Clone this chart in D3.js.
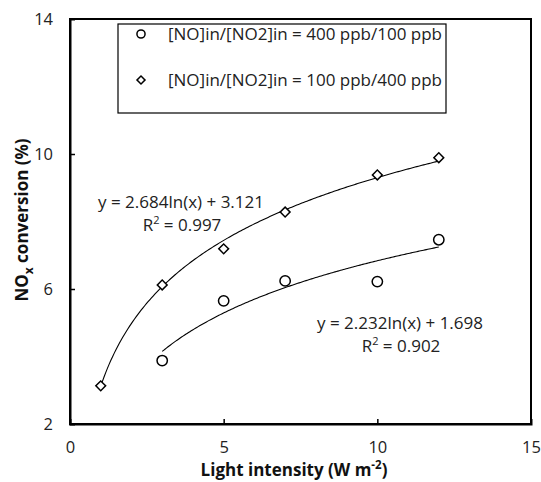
<!DOCTYPE html>
<html>
<head>
<meta charset="utf-8">
<script src="https://cdn.jsdelivr.net/npm/d3@7/dist/d3.min.js"></script>
<style>
  html, body { margin: 0; padding: 0; background: #fff; }
  svg { display: block; font-family: "Open Sans", "Liberation Sans", Arial, sans-serif; }
</style>
</head>
<body>
<svg id="chart" width="541" height="482"></svg>
<script>
// Light intensity (W m-2) levels
const intensityNO400 = [3, 5, 7, 10, 12];
const intensityNO100 = [1, 3, 5, 7, 10, 12];
// NOx conversion (%)
const conversionNO400 = [3.88, 5.65, 6.24, 6.22, 7.46];
const conversionNO100 = [3.13, 6.12, 7.19, 8.28, 9.38, 9.89];
// Logarithmic fits y = a ln(x) + b
const fitNO400 = { a: 2.232, b: 1.698, r2: 0.902, from: 3, to: 12 };
const fitNO100 = { a: 2.684, b: 3.121, r2: 0.997, from: 1, to: 12 };
const legendLabels = ["[NO]in/[NO2]in = 400 ppb/100 ppb", "[NO]in/[NO2]in = 100 ppb/400 ppb"];
const xTicks = [0, 5, 10, 15];
const yTicks = [2, 6, 10, 14];

const svg = d3.select("#chart");
const m = { left: 70, right: 531, top: 19, bottom: 424 };

const x = d3.scaleLinear().domain([0, 15]).range([m.left, m.right]);
const y = d3.scaleLinear().domain([2, 14]).range([m.bottom, m.top]);

// Frame
svg.append("rect")
  .attr("x", m.left).attr("y", m.top)
  .attr("width", m.right - m.left).attr("height", m.bottom - m.top)
  .attr("fill", "none").attr("stroke", "#000").attr("stroke-width", 2);

// Axes with inward ticks
const xAxis = svg.append("g").attr("transform", `translate(0,${m.bottom})`)
  .call(d3.axisBottom(x).tickValues(xTicks).tickSize(-5).tickPadding(17));
const yAxis = svg.append("g").attr("transform", `translate(${m.left},0)`)
  .call(d3.axisLeft(y).tickValues(yTicks).tickSize(-5).tickPadding(17));
[xAxis, yAxis].forEach(g => {
  g.select(".domain").attr("stroke-width", 2);
  g.selectAll(".tick line").attr("stroke-width", 1.5);
  g.selectAll(".tick text")
    .attr("font-family", "Open Sans, Liberation Sans, Arial, sans-serif")
    .attr("font-size", 16.5).attr("fill", "#222");
});
xAxis.selectAll(".tick").filter(d => d === 0 || d === 15).select("line").remove();
yAxis.selectAll(".tick").filter(d => d === 2 || d === 14).select("line").remove();

// Trend lines
function fitPoints(f) {
  return d3.range(0, 201).map(i => {
    const xv = f.from + (f.to - f.from) * i / 200;
    return [xv, f.a * Math.log(xv) + f.b];
  });
}
const line = d3.line().x(d => x(d[0])).y(d => y(d[1]));
[fitNO400, fitNO100].forEach(f => {
  svg.append("path").datum(fitPoints(f))
    .attr("d", line).attr("fill", "none")
    .attr("stroke", "#000").attr("stroke-width", 1.1);
});

// Markers
const circlePath = d3.symbol().type(d3.symbolCircle).size(84)();
const diamondPath = d3.symbol().type(d3.symbolSquare).size(48)();
svg.append("g").selectAll("path")
  .data(intensityNO400.map((v, i) => [v, conversionNO400[i]]))
  .join("path")
  .attr("d", circlePath)
  .attr("transform", d => `translate(${x(d[0])},${y(d[1])})`)
  .attr("fill", "#fff").attr("stroke", "#000").attr("stroke-width", 1.5);
svg.append("g").selectAll("path")
  .data(intensityNO100.map((v, i) => [v, conversionNO100[i]]))
  .join("path")
  .attr("d", diamondPath)
  .attr("transform", d => `translate(${x(d[0])},${y(d[1])}) rotate(45)`)
  .attr("fill", "#fff").attr("stroke", "#000").attr("stroke-width", 1.5);

// Fit equations
const fmt = d3.format(".3f");
function eqLabel(f, cx, cy) {
  const g = svg.append("g").attr("font-size", 17).attr("fill", "#222").attr("text-anchor", "middle");
  g.append("text").attr("x", cx).attr("y", cy)
    .text(`y = ${fmt(f.a)}ln(x) + ${fmt(f.b)}`);
  const t = g.append("text").attr("x", cx + 1).attr("y", cy + 23);
  t.append("tspan").text("R");
  t.append("tspan").attr("dy", -7).attr("font-size", 11).text("2");
  t.append("tspan").attr("dy", 7).text(` = ${fmt(f.r2)}`);
}
eqLabel(fitNO100, 181, 208);
eqLabel(fitNO400, 400, 329);

// Legend
const lg = svg.append("g");
lg.append("rect").attr("x", 118).attr("y", 24).attr("width", 328).attr("height", 89)
  .attr("fill", "#fff").attr("stroke", "#000").attr("stroke-width", 1.2);
legendLabels.forEach((lab, i) => {
  const cy = 34 + i * 46;
  lg.append("path")
    .attr("d", i === 0 ? d3.symbol().type(d3.symbolCircle).size(52)() : d3.symbol().type(d3.symbolSquare).size(32)())
    .attr("transform", `translate(141,${cy})` + (i === 1 ? " rotate(45)" : ""))
    .attr("fill", "#fff").attr("stroke", "#000").attr("stroke-width", 1.5);
  lg.append("text").attr("x", 168).attr("y", cy + 6)
    .attr("font-size", 17).attr("fill", "#222").text(lab);
});

// Axis titles
const xt = svg.append("text").attr("x", 294).attr("y", 476)
  .attr("text-anchor", "middle").attr("font-weight", "bold").attr("font-size", 17).attr("fill", "#111");
xt.append("tspan").text("Light intensity (W m");
xt.append("tspan").attr("dy", -7).attr("font-size", 11.5).text("-2");
xt.append("tspan").attr("dy", 7).text(")");

const yt = svg.append("text").attr("transform", "translate(28,220) rotate(-90)")
  .attr("text-anchor", "middle").attr("font-weight", "bold").attr("font-size", 17).attr("fill", "#111");
yt.append("tspan").text("NO");
yt.append("tspan").attr("dy", 5).attr("font-size", 12).text("x");
yt.append("tspan").attr("dy", -5).text(" conversion (%)");
</script>
</body>
</html>
